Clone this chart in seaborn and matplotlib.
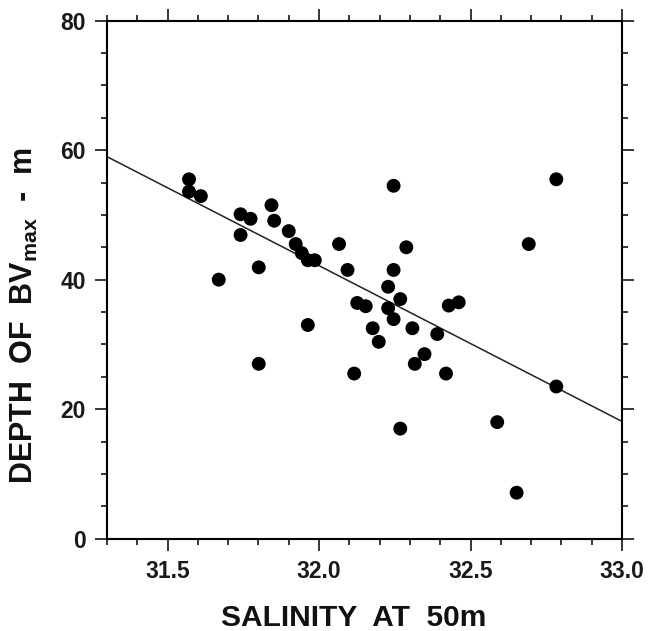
import matplotlib
matplotlib.use("Agg")
import matplotlib.pyplot as plt
from matplotlib.ticker import MultipleLocator, FormatStrFormatter
import seaborn as sns
import pandas as pd

# salinity at 50 m vs depth of the Brunt-Vaisala maximum
salinity = [31.571, 31.571, 31.610, 31.741, 31.774, 31.741, 31.843, 31.852,
            31.900, 31.923, 31.943, 31.963, 31.986, 32.066, 31.801, 31.669,
            31.963, 31.801, 32.246, 32.783, 32.288, 32.692, 32.094, 32.246,
            32.228, 32.268, 32.126, 32.154, 32.228, 32.246, 32.177, 32.197,
            32.308, 32.390, 32.428, 32.461, 32.348, 32.316, 32.116, 32.419,
            32.783, 32.268, 32.588, 32.652]
depth = [55.5, 53.6, 52.9, 50.1, 49.4, 46.9, 51.5, 49.1,
         47.5, 45.5, 44.1, 43.0, 43.0, 45.5, 41.9, 40.0,
         33.0, 27.0, 54.5, 55.5, 45.0, 45.5, 41.5, 41.5,
         38.9, 37.0, 36.4, 35.9, 35.6, 33.9, 32.5, 30.4,
         32.5, 31.6, 36.0, 36.5, 28.5, 27.0, 25.5, 25.5,
         23.5, 17.0, 18.0, 7.1]

# fitted line as printed in the original (read at the two axis edges)
fit_salinity = [31.3, 33.0]
fit_depth = [59.0, 18.1]

df = pd.DataFrame({"salinity": salinity, "depth": depth})
fit = pd.DataFrame({"salinity": fit_salinity, "depth": fit_depth})

sns.set_theme(style="ticks")
plt.rcParams["font.family"] = ["Liberation Sans", "DejaVu Sans"]
plt.rcParams["font.weight"] = "bold"
plt.rcParams["mathtext.fontset"] = "custom"
plt.rcParams["mathtext.rm"] = "Liberation Sans:bold"
plt.rcParams["mathtext.bf"] = "Liberation Sans:bold"
plt.rcParams["mathtext.default"] = "bf"

fig = plt.figure(figsize=(6.48, 6.31), dpi=100)
ax = fig.add_axes([0.165, 0.1463, 0.795, 0.821])
ax.set_xlim(31.3, 33.0)
ax.set_ylim(0, 80)

sns.lineplot(data=fit, x="salinity", y="depth", ax=ax, color="#222222", lw=1.1)
sns.scatterplot(data=df, x="salinity", y="depth", ax=ax, s=100,
                color="black", edgecolor="none", zorder=3)

ax.xaxis.set_major_locator(MultipleLocator(0.5))
ax.xaxis.set_minor_locator(MultipleLocator(0.1))
ax.yaxis.set_major_locator(MultipleLocator(20))
ax.yaxis.set_minor_locator(MultipleLocator(5))
ax.xaxis.set_major_formatter(FormatStrFormatter("%.1f"))

for s in ax.spines.values():
    s.set_visible(True)
    s.set_linewidth(1.5)
    s.set_color("black")

ax.tick_params(which="both", direction="out", top=True, right=True,
               labeltop=False, labelright=False, color="black", width=1.1)
ax.tick_params(which="major", length=8.6, pad=6.5, labelsize=16.5,
               labelcolor="#1a1a1a")
ax.tick_params(which="minor", length=4.6)
for lab in ax.get_xticklabels() + ax.get_yticklabels():
    lab.set_fontweight("bold")

ax.set_xlabel("")
ax.set_ylabel("")
fig.text(354 / 648, 4.5 / 631, "SALINITY  AT  50m", ha="center", va="baseline",
         fontsize=21.5, fontweight="bold", color="#111111")
fig.text(24 / 648, 1 - 315 / 631, "DEPTH  OF  BV$_{max}$  -  m", rotation=90,
         ha="center", va="center", fontsize=22, fontweight="bold",
         color="#111111")

fig.savefig("out.png", dpi=100)
